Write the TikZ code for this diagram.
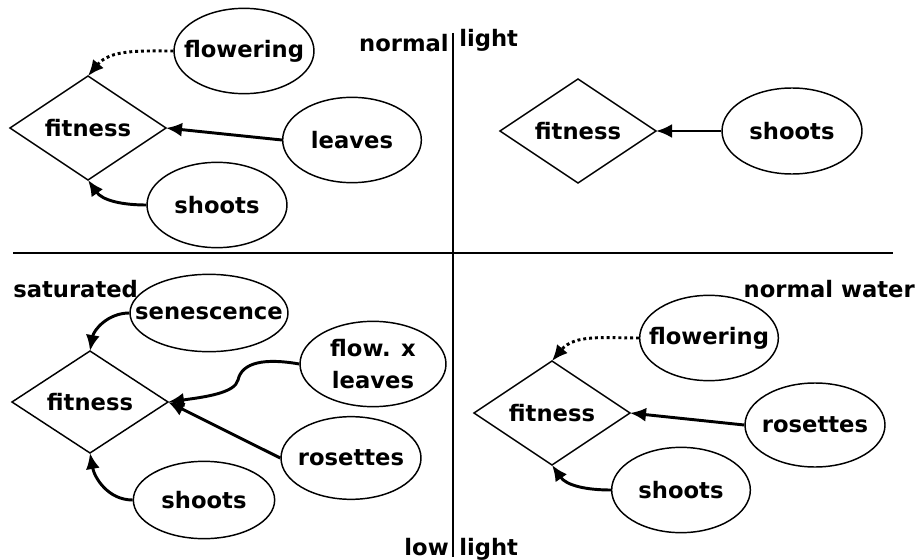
\documentclass[tikz,border=0pt]{standalone}
\usepackage{fontspec}
\setmainfont{DejaVu Sans}
\usetikzlibrary{shapes.geometric,arrows.meta}
\begin{document}
\begin{tikzpicture}[x=0.75pt,y=-0.75pt,
  every node/.style={font=\fontsize{17}{24.5}\selectfont\bfseries},
  fitbox/.style={draw,diamond,aspect=1.5,inner sep=0pt,outer sep=0pt,minimum width=117pt,minimum height=78pt,line width=1.1pt},
  ell/.style n args={3}{draw,ellipse,line width=1.1pt,inner sep=0pt,minimum width=#1,minimum height=#2,label={[align=center]center:#3}},
  lbl/.style={inner sep=0pt},
  conn/.style={line width=2.2pt,-{Latex[length=12pt,width=10.5pt]}},
  dotconn/.style={conn,dash pattern=on 2.2pt off 2.2pt},
  axisline/.style={line width=2.2pt}
]
\path[use as bounding box] (0,0) rectangle (917,560);

% axes
\coordinate (vt) at (453,33);
\coordinate (vb) at (453,557);
\coordinate (hl) at (13,253);
\coordinate (hr) at (893,253);
\draw[axisline] (vt) -- (vb);
\draw[axisline] (hl) -- (hr);

% axis labels
\node[lbl,anchor=base east] (nl) at (449,52) {normal};
\node[lbl,anchor=base west] (lt) at (459,47) {light};
\node[lbl,anchor=base east] (lo) at (449,555) {low};
\node[lbl,anchor=base west] (lt2) at (459,555) {light};
\node[lbl,anchor=base west] (sat) at (13,297) {saturated};
\node[lbl,anchor=base east] (nw) at (915,297) {normal water};

% top-left
\node[fitbox] (f1) at (88,128) {fitness};
\node[ell={105pt}{64pt}{flowering}] (fl1) at (244,51) {};
\node[ell={104pt}{64pt}{leaves}] (lv1) at (352,140) {};
\node[ell={105pt}{64pt}{shoots}] (sh1) at (217,205) {};
\draw[dotconn] (fl1.west) to[out=180,in=50] (f1.north);
\draw[conn] (lv1.west) -- (f1.east);
\draw[conn] (sh1.west) to[out=180,in=-55] (f1.south);

% top-right
\node[fitbox] (f2) at (578,131) {fitness};
\node[ell={105pt}{64.5pt}{shoots}] (sh2) at (792,131) {};
\draw[conn] (sh2.west) -- (f2.east);

% bottom-left
\node[fitbox,minimum height=76.5pt] (f3) at (90,402) {fitness};
\node[ell={118.5pt}{58pt}{senescence}] (se3) at (209,313) {};
\node[ell={109.5pt}{64pt}{flow. x\\leaves}] (fx3) at (373,364) {};
\node[ell={105pt}{62pt}{rosettes}] (ro3) at (351,458) {};
\node[ell={106pt}{58pt}{shoots}] (sh3) at (204,500) {};
\draw[conn] (se3.west) to[out=180,in=80] (f3.north);
\draw[conn] (fx3.west) .. controls (265,358) and (242,362) .. (238,380) .. controls (235,393) and (205,397) .. (f3.east);
\draw[conn] (ro3.west) -- (f3.east);
\draw[conn] (sh3.west) to[out=180,in=-80] (f3.south);

% bottom-right
\node[fitbox] (f4) at (552,413) {fitness};
\node[ell={104pt}{64pt}{flowering}] (fl4) at (709,338) {};
\node[ell={105pt}{63pt}{rosettes}] (ro4) at (815,425) {};
\node[ell={104pt}{64pt}{shoots}] (sh4) at (681,490) {};
\draw[dotconn] (fl4.west) to[out=180,in=50] (f4.north);
\draw[conn] (ro4.west) -- (f4.east);
\draw[conn] (sh4.west) to[out=180,in=-55] (f4.south);
\end{tikzpicture}
\end{document}
